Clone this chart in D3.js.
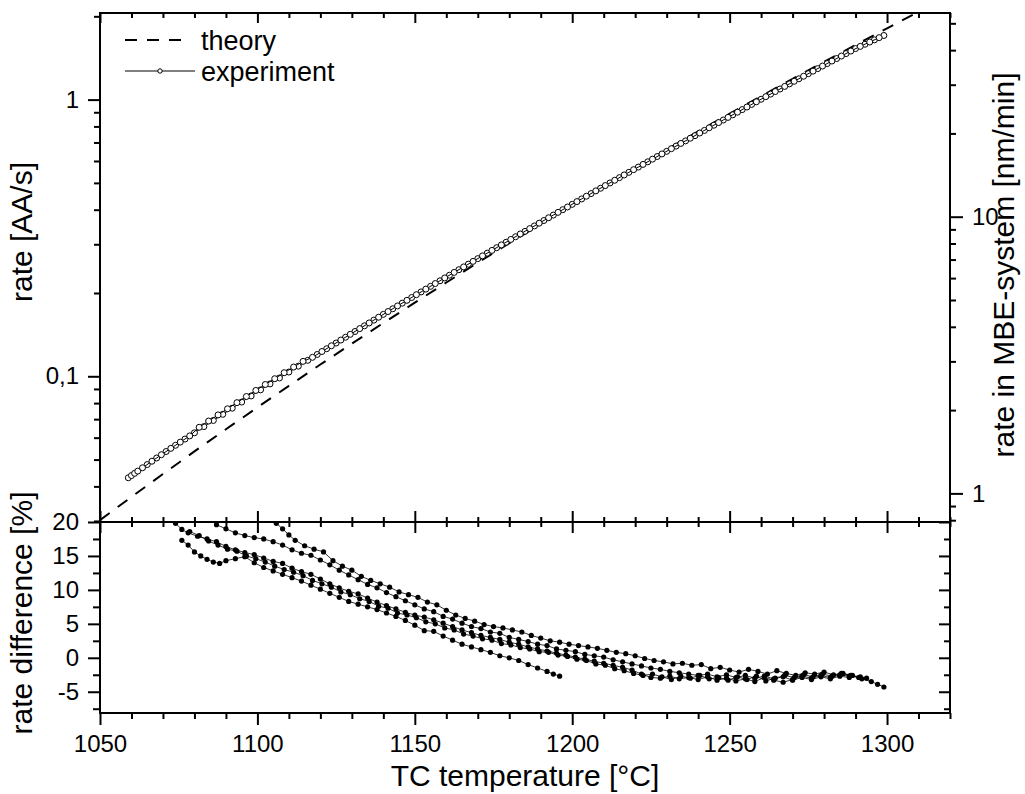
<!DOCTYPE html>
<html>
<head>
<meta charset="utf-8">
<script src="https://cdn.jsdelivr.net/npm/d3@7"></script>
<style>
  body { margin: 0; background: #fff; }
  svg text { font-family: "Liberation Sans", Arial, sans-serif; fill: #000; }
</style>
</head>
<body>
<div id="chart"></div>
<script>
// ---- data ----
const theoryT = [1050, 1060, 1070, 1080, 1090, 1100, 1110, 1120, 1130, 1140, 1150, 1160, 1170, 1180,
  1190, 1200, 1210, 1220, 1230, 1240, 1250, 1260, 1270, 1280, 1290, 1300, 1310, 1320];
const theoryRate = [0.03021, 0.03665, 0.04434, 0.05352, 0.06435, 0.07718, 0.09237, 0.1103, 0.1312, 0.1558,
  0.1845, 0.2182, 0.2573, 0.3027, 0.3551, 0.4160, 0.4862, 0.5672, 0.6601, 0.7671, 0.8891, 1.0288,
  1.1882, 1.3692, 1.5763, 1.8105, 2.0761, 2.3763];

// measured rate, first sweep
const expT = [1059, 1060, 1061, 1062, 1065, 1068, 1071, 1074, 1077, 1080, 1083, 1086, 1089, 1092, 1095, 1098,
  1101, 1104, 1107, 1110, 1113, 1116, 1119, 1122, 1125, 1128, 1131, 1134, 1137, 1140, 1143, 1146,
  1149, 1152, 1155, 1158, 1161, 1164, 1167, 1170, 1173, 1176, 1179, 1182, 1185, 1188, 1191, 1194,
  1197, 1200, 1203, 1206, 1209, 1212, 1215, 1218, 1221, 1224, 1227, 1230, 1233, 1236, 1239, 1242,
  1245, 1248, 1251, 1254, 1257, 1260, 1263, 1266, 1269, 1272, 1275, 1278, 1281, 1284, 1287, 1290,
  1293, 1296, 1299];
const expRate = [0.04297, 0.04378, 0.04460, 0.04542, 0.04797, 0.05067, 0.05347, 0.05632, 0.05932, 0.06248,
  0.06578, 0.06924, 0.07288, 0.07669, 0.08070, 0.08491, 0.08931, 0.09385, 0.09862, 0.1036, 0.1088,
  0.1142, 0.1199, 0.1258, 0.1319, 0.1384, 0.1452, 0.1522, 0.1596, 0.1674, 0.1754, 0.1838, 0.1926,
  0.2018, 0.2114, 0.2214, 0.2319, 0.2428, 0.2542, 0.2662, 0.2786, 0.2916, 0.3052, 0.3194, 0.3341,
  0.3495, 0.3656, 0.3825, 0.4001, 0.4183, 0.4376, 0.4575, 0.4782, 0.4998, 0.5223, 0.5459, 0.5704,
  0.5959, 0.6226, 0.6502, 0.6792, 0.7093, 0.7408, 0.7737, 0.8081, 0.8438, 0.8812, 0.9201, 0.9607,
  1.0031, 1.0467, 1.0923, 1.1398, 1.1892, 1.2406, 1.2944, 1.3500, 1.4072, 1.4668, 1.5291, 1.5855,
  1.6443, 1.7053];

// measured rate, second sweep
const exp2T = [1063.5, 1066.5, 1069.5, 1072.5, 1075.5, 1078.5, 1081.5, 1084.5, 1087.5, 1090.5, 1093.5,
  1096.5, 1099.5, 1102.5, 1105.5, 1108.5, 1111.5, 1114.5, 1117.5, 1120.5, 1123.5, 1126.5, 1129.5,
  1132.5, 1135.5, 1138.5, 1141.5, 1144.5, 1147.5, 1150.5, 1153.5, 1156.5, 1159.5, 1162.5, 1165.5,
  1168.5, 1171.5, 1174.5, 1177.5, 1180.5, 1183.5, 1186.5, 1189.5, 1192.5, 1195.5, 1198.5, 1201.5,
  1204.5, 1207.5, 1210.5, 1213.5, 1216.5, 1219.5, 1222.5, 1225.5, 1228.5, 1231.5, 1234.5, 1237.5,
  1240.5, 1243.5, 1246.5, 1249.5, 1252.5, 1255.5, 1258.5, 1261.5, 1264.5, 1267.5, 1270.5, 1273.5,
  1276.5, 1279.5, 1282.5, 1285.5, 1288.5, 1291.5, 1294.5, 1297.5];
const exp2Rate = [0.04670, 0.04932, 0.05207, 0.05490, 0.05782, 0.06090, 0.0654, 0.0689, 0.0725, 0.0763,
  0.0803, 0.0845, 0.0889, 0.0934, 0.0980, 0.1030, 0.1080, 0.1132, 0.1171, 0.1229, 0.1289, 0.1352,
  0.1418, 0.1487, 0.1559, 0.1635, 0.1714, 0.1796, 0.1882, 0.1972, 0.2066, 0.2164, 0.2267, 0.2374,
  0.2485, 0.2602, 0.2724, 0.2851, 0.2984, 0.3123, 0.3268, 0.3418, 0.3576, 0.3741, 0.3913, 0.4092,
  0.4280, 0.4476, 0.4679, 0.4890, 0.5111, 0.5341, 0.5582, 0.5832, 0.6093, 0.6364, 0.6647, 0.6943,
  0.7251, 0.7573, 0.7909, 0.8260, 0.8625, 0.9007, 0.9404, 0.9819, 1.0249, 1.0695, 1.1161, 1.1645,
  1.2149, 1.2675, 1.3222, 1.3786, 1.4370, 1.4980, 1.5573, 1.6149, 1.6748];

// rate difference [%] of the individual runs: [temperature, difference]
const run1 = [[1106,19.8],[1108,19.0],[1110,18.1],[1112,17.3],[1115,16.5],[1118,16.0],[1121,15.6],[1124,14.3],
  [1127,13.5],[1130,12.9],[1133,12.0],[1136,11.4],[1139,10.9],[1142,10.4],[1145,9.7],[1148,9.3],[1151,8.9],
  [1154,8.2],[1157,7.8],[1160,7.0],[1163,6.3],[1166,5.8],[1169,5.4],[1172,4.9],[1175,4.6],[1178,4.4],
  [1181,4.1],[1184,3.8],[1187,3.3],[1190,2.9],[1193,2.5],[1196,2.3],[1199,2.0],[1202,1.8],[1205,1.6],
  [1208,1.4],[1211,1.1],[1214,0.8],[1217,0.6],[1220,0.3],[1223,-0.1],[1226,-0.4],[1229,-0.6],[1232,-0.9],
  [1235,-0.8],[1238,-1.1],[1241,-1.0],[1244,-1.6],[1247,-1.4],[1250,-1.8],[1253,-2.1],[1256,-1.7],
  [1259,-2.0],[1262,-2.4],[1265,-1.9],[1268,-2.3],[1271,-2.6],[1274,-2.2],[1277,-2.4],[1280,-2.1],
  [1283,-2.5],[1286,-2.3],[1289,-2.6],[1292,-3.1],[1295,-3.5],[1297,-3.9],[1299,-4.3]];
const run2 = [[1087,19.6],[1090,19.0],[1093,18.4],[1096,18.0],[1099,17.7],[1102,17.5],[1105,17.1],[1108,16.6],
  [1111,15.9],[1114,15.4],[1117,15.1],[1120,14.4],[1123,13.7],[1126,12.9],[1129,12.2],[1132,11.5],
  [1135,10.8],[1138,10.3],[1141,9.6],[1144,9.0],[1147,8.4],[1150,7.8],[1153,7.2],[1156,6.8],[1159,6.1],
  [1162,5.7],[1165,5.1],[1168,4.6],[1171,4.3],[1174,3.8],[1177,3.6],[1180,3.0],[1183,2.7],[1186,2.4],
  [1189,2.0],[1192,1.8],[1195,1.3],[1198,1.1],[1201,0.9],[1204,0.5],[1207,0.3],[1210,0.1],[1213,-0.3],
  [1216,-0.6],[1219,-0.9],[1222,-1.2],[1225,-1.5],[1228,-1.7],[1231,-2.0],[1234,-2.2],[1237,-2.4],
  [1240,-2.6],[1243,-2.4],[1246,-2.8],[1249,-2.5],[1252,-2.9],[1255,-2.6],[1258,-3.0],[1261,-2.7],
  [1264,-3.1],[1267,-2.8],[1270,-3.3],[1273,-2.9],[1276,-3.2],[1279,-2.8],[1282,-3.1],[1285,-2.7],[1288,-2.9]];
const run3 = [[1074,19.8],[1076,18.9],[1078,18.4],[1081,17.9],[1084,17.5],[1087,17.1],[1090,16.4],[1093,15.9],
  [1096,15.5],[1099,15.2],[1102,14.7],[1105,14.2],[1108,13.9],[1111,13.2],[1114,12.7],[1117,12.3],
  [1120,11.6],[1123,10.9],[1126,10.3],[1129,9.8],[1132,9.4],[1135,8.8],[1138,8.2],[1141,7.7],[1144,7.2],
  [1147,6.7],[1150,6.3],[1153,6.0],[1156,5.6],[1159,5.1],[1162,4.6],[1165,4.1],[1168,3.7],[1171,3.3],
  [1174,3.0],[1177,2.7],[1180,2.3],[1183,2.0],[1186,1.6],[1189,1.3],[1192,1.0],[1195,0.7],[1198,0.4],
  [1201,0.1],[1204,-0.2],[1207,-0.5],[1210,-0.8],[1213,-1.1],[1216,-1.4],[1219,-1.8],[1222,-2.4],
  [1225,-2.9],[1228,-3.0],[1231,-2.7],[1234,-3.1],[1237,-2.9],[1240,-3.2],[1243,-2.8],[1246,-3.3],
  [1249,-3.0],[1252,-3.4],[1255,-3.1],[1258,-3.5],[1261,-2.9],[1264,-3.3],[1267,-3.6],[1270,-3.2],
  [1273,-2.7],[1276,-3.0],[1279,-2.6],[1282,-2.9],[1285,-2.5],[1288,-2.7],[1291,-2.9]];
const run4 = [[1076,17.3],[1078,16.6],[1080,15.6],[1082,15.0],[1084,14.5],[1086,14.1],[1088,13.9],[1090,14.3],
  [1093,14.6],[1096,14.9],[1099,14.0],[1102,13.3],[1105,12.8],[1108,12.3],[1111,11.8],[1114,11.3],
  [1117,10.7],[1120,10.1],[1123,9.5],[1126,8.9],[1129,8.3],[1132,7.9],[1135,7.5],[1138,7.1],[1141,6.6],
  [1144,6.1],[1147,5.5],[1150,4.8],[1153,4.0],[1156,3.9],[1159,3.2],[1162,2.6],[1165,2.0],[1168,1.6],
  [1171,1.2],[1174,0.8],[1177,0.3],[1180,0.0],[1183,-0.4],[1186,-1.0],[1189,-1.5],[1192,-2.0],
  [1194,-2.4],[1196,-2.7]];
const run5 = [[1078.5,18.6],[1081.5,18.0],[1084.5,17.2],[1087.5,16.6],[1090.5,16.0],[1093.5,15.7],[1096.5,15.0],
  [1099.5,14.6],[1102.5,14.1],[1105.5,13.5],[1108.5,13.0],[1111.5,12.6],[1114.5,12.1],[1117.5,11.4],
  [1120.5,10.9],[1123.5,10.4],[1126.5,9.7],[1129.5,9.3],[1132.5,8.7],[1135.5,8.3],[1138.5,7.6],[1141.5,7.3],
  [1144.5,6.6],[1147.5,6.3],[1150.5,5.9],[1153.5,5.3],[1156.5,5.0],[1159.5,4.4],[1162.5,4.1],[1165.5,3.5],
  [1168.5,3.2],[1171.5,2.8],[1174.5,2.6],[1177.5,2.1],[1180.5,1.9],[1183.5,1.5],[1186.5,1.3],[1189.5,0.9],
  [1192.5,0.8],[1195.5,0.4],[1198.5,0.2],[1201.5,-0.2],[1204.5,-0.4],[1207.5,-0.9],[1210.5,-1.1],
  [1213.5,-1.6],[1216.5,-1.9],[1219.5,-2.3],[1222.5,-2.6],[1225.5,-2.4],[1228.5,-2.8],[1231.5,-3.2],
  [1234.5,-2.7],[1237.5,-3.0],[1240.5,-2.6],[1243.5,-3.1],[1246.5,-2.9],[1249.5,-3.3],[1252.5,-2.8],
  [1255.5,-3.2],[1258.5,-2.7],[1261.5,-3.4],[1264.5,-3.0],[1267.5,-2.6],[1270.5,-2.9],[1273.5,-2.5],
  [1276.5,-2.8],[1279.5,-2.4],[1282.5,-2.7],[1285.5,-2.3],[1288.5,-2.6],[1291.5,-2.8],[1293.5,-3.0]];
const runs = [run1, run2, run3, run4, run5];

// axis ticks
const xMajorTicks = [1050, 1100, 1150, 1200, 1250, 1300];
const xMinorTicks = [1060, 1070, 1080, 1090, 1110, 1120, 1130, 1140, 1160, 1170, 1180, 1190,
  1210, 1220, 1230, 1240, 1260, 1270, 1280, 1290, 1310, 1320];
const rateMajorTicks = [0.1, 1];
const rateMajorLabels = ["0,1", "1"];
const rateMinorTicks = [0.03, 0.04, 0.05, 0.06, 0.07, 0.08, 0.09, 0.2, 0.3, 0.4, 0.5, 0.6, 0.7, 0.8, 0.9, 2];
const nmMajorTicks = [1, 10];
const nmMajorLabels = ["1", "10"];
const nmMinorTicks = [0.8, 0.9, 2, 3, 4, 5, 6, 7, 8, 9, 20, 30, 40, 50];
const diffMajorTicks = [-5, 0, 5, 10, 15, 20];
const diffMinorTicks = [-7.5, -2.5, 2.5, 7.5, 12.5, 17.5];

const xDomain = [1050, 1320];
const rateDomain = [0.02974, 2.056];
const diffDomain = [-8.13, 20];
const nmPerAA = 26.5; // right axis conversion

// ---- layout ----
const W = 1025, H = 794;
const pL = 100, pR = 950, pT = 13, pMid = 522, pB = 713;
const FONT = '"Liberation Sans", Arial, sans-serif';

const svg = d3.select("#chart").append("svg")
  .attr("width", W).attr("height", H);

const x = d3.scaleLinear().domain(xDomain).range([pL, pR]);
const yRate = d3.scaleLog().domain(rateDomain).range([pMid, pT]);
const yNm = d3.scaleLog().domain(rateDomain.map(d => d * nmPerAA)).range([pMid, pT]);
const yDiff = d3.scaleLinear().domain(diffDomain).range([pB, pMid]);

const defs = svg.append("defs");
defs.append("clipPath").attr("id", "clipTop")
  .append("rect").attr("x", pL).attr("y", pT).attr("width", pR - pL).attr("height", pMid - pT);
defs.append("clipPath").attr("id", "clipBot")
  .append("rect").attr("x", pL).attr("y", pMid).attr("width", pR - pL).attr("height", pB - pMid);

// axis helper: draws ticks (no domain line), styles them
function axis(gen, tx, ty, size, values, labels, pad) {
  const a = gen.tickValues(values).tickSizeInner(size).tickSizeOuter(0)
    .tickPadding(pad || 8)
    .tickFormat(labels ? (d, i) => labels[i] : "");
  const g = svg.append("g").attr("transform", `translate(${tx},${ty})`).call(a);
  g.select(".domain").remove();
  g.selectAll(".tick line").attr("stroke", "#000").attr("stroke-width", 2);
  g.attr("font-family", FONT).attr("font-size", 24);
  return g;
}

// ---- top panel data ----
const gTop = svg.append("g").attr("clip-path", "url(#clipTop)");

const rateLine = d3.line().x(d => x(d[0])).y(d => yRate(d[1]));
gTop.append("path")
  .datum(theoryT.map((t, i) => [t, theoryRate[i]]))
  .attr("d", rateLine)
  .attr("fill", "none").attr("stroke", "#000").attr("stroke-width", 2)
  .attr("stroke-dasharray", "12,10");

[[expT, expRate], [exp2T, exp2Rate]].forEach(([ts, vs]) => {
  const pts = ts.map((t, i) => [t, vs[i]]);
  gTop.append("path").datum(pts).attr("d", rateLine)
    .attr("fill", "none").attr("stroke", "#000").attr("stroke-width", 1);
  gTop.selectAll(null).data(pts).enter().append("circle")
    .attr("cx", d => x(d[0])).attr("cy", d => yRate(d[1])).attr("r", 3)
    .attr("fill", "#fff").attr("stroke", "#000").attr("stroke-width", 1);
});

// ---- bottom panel data ----
const gBot = svg.append("g").attr("clip-path", "url(#clipBot)");
const diffLine = d3.line().x(d => x(d[0])).y(d => yDiff(d[1]));
runs.forEach(run => {
  gBot.append("path").datum(run).attr("d", diffLine)
    .attr("fill", "none").attr("stroke", "#000").attr("stroke-width", 0.8);
  gBot.selectAll(null).data(run).enter().append("circle")
    .attr("cx", d => x(d[0])).attr("cy", d => yDiff(d[1])).attr("r", 2.6)
    .attr("fill", "#000");
});

// ---- frames ----
svg.append("rect").attr("x", pL).attr("y", pT).attr("width", pR - pL).attr("height", pB - pT)
  .attr("fill", "none").attr("stroke", "#000").attr("stroke-width", 2);
svg.append("line").attr("x1", pL).attr("x2", pR).attr("y1", pMid).attr("y2", pMid)
  .attr("stroke", "#000").attr("stroke-width", 2);

// ---- axes ----
// top edge (ticks inward)
axis(d3.axisBottom(x), 0, pT, 10, xMajorTicks);
axis(d3.axisBottom(x), 0, pT, 5, xMinorTicks);
// divider: top panel ticks up, bottom panel ticks down
axis(d3.axisTop(x), 0, pMid, 11, xMajorTicks);
axis(d3.axisTop(x), 0, pMid, 5, xMinorTicks);
axis(d3.axisBottom(x), 0, pMid, 11, xMajorTicks);
axis(d3.axisBottom(x), 0, pMid, 5, xMinorTicks);
// bottom edge with labels
axis(d3.axisBottom(x), 0, pB, 12, xMajorTicks, xMajorTicks.map(String), 10);
axis(d3.axisBottom(x), 0, pB, 6, xMinorTicks);

// left rate axis
axis(d3.axisLeft(yRate), pL, 0, 12, rateMajorTicks, rateMajorLabels, 9);
axis(d3.axisLeft(yRate), pL, 0, 6, rateMinorTicks);
// right nm/min axis
axis(d3.axisRight(yNm), pR, 0, 13, nmMajorTicks, nmMajorLabels, 9);
axis(d3.axisRight(yNm), pR, 0, 6, nmMinorTicks);
// left difference axis
axis(d3.axisLeft(yDiff), pL, 0, 12, diffMajorTicks, diffMajorTicks.map(String), 9);
axis(d3.axisLeft(yDiff), pL, 0, 7, diffMinorTicks);
// right difference axis (ticks inward)
axis(d3.axisLeft(yDiff), pR, 0, 11, diffMajorTicks);
axis(d3.axisLeft(yDiff), pR, 0, 6, diffMinorTicks);

// ---- titles ----
svg.append("text").attr("text-anchor", "middle")
  .attr("x", (pL + pR) / 2).attr("y", 786)
  .style("font-size", "30px").text("TC temperature [°C]");
svg.append("text").attr("text-anchor", "middle")
  .attr("transform", "translate(32,232) rotate(-90)")
  .style("font-size", "30px").text("rate [AA/s]");
svg.append("text").attr("text-anchor", "middle")
  .attr("transform", "translate(32,613) rotate(-90)")
  .style("font-size", "30px").text("rate difference [%]");
svg.append("text").attr("text-anchor", "middle")
  .attr("transform", "translate(1014,265) rotate(-90)")
  .style("font-size", "30px").text("rate in MBE-system [nm/min]");

// ---- legend ----
const legend = svg.append("g");
legend.append("line").attr("x1", 125).attr("x2", 182).attr("y1", 40).attr("y2", 40)
  .attr("stroke", "#000").attr("stroke-width", 2).attr("stroke-dasharray", "12,10");
legend.append("text").attr("x", 201).attr("y", 50).style("font-size", "27px").text("theory");
legend.append("line").attr("x1", 125).attr("x2", 195).attr("y1", 71).attr("y2", 71)
  .attr("stroke", "#000").attr("stroke-width", 1);
legend.append("circle").attr("cx", 160).attr("cy", 71).attr("r", 2.2)
  .attr("fill", "#fff").attr("stroke", "#000").attr("stroke-width", 1);
legend.append("text").attr("x", 201).attr("y", 81).style("font-size", "27px").text("experiment");
</script>
</body>
</html>
